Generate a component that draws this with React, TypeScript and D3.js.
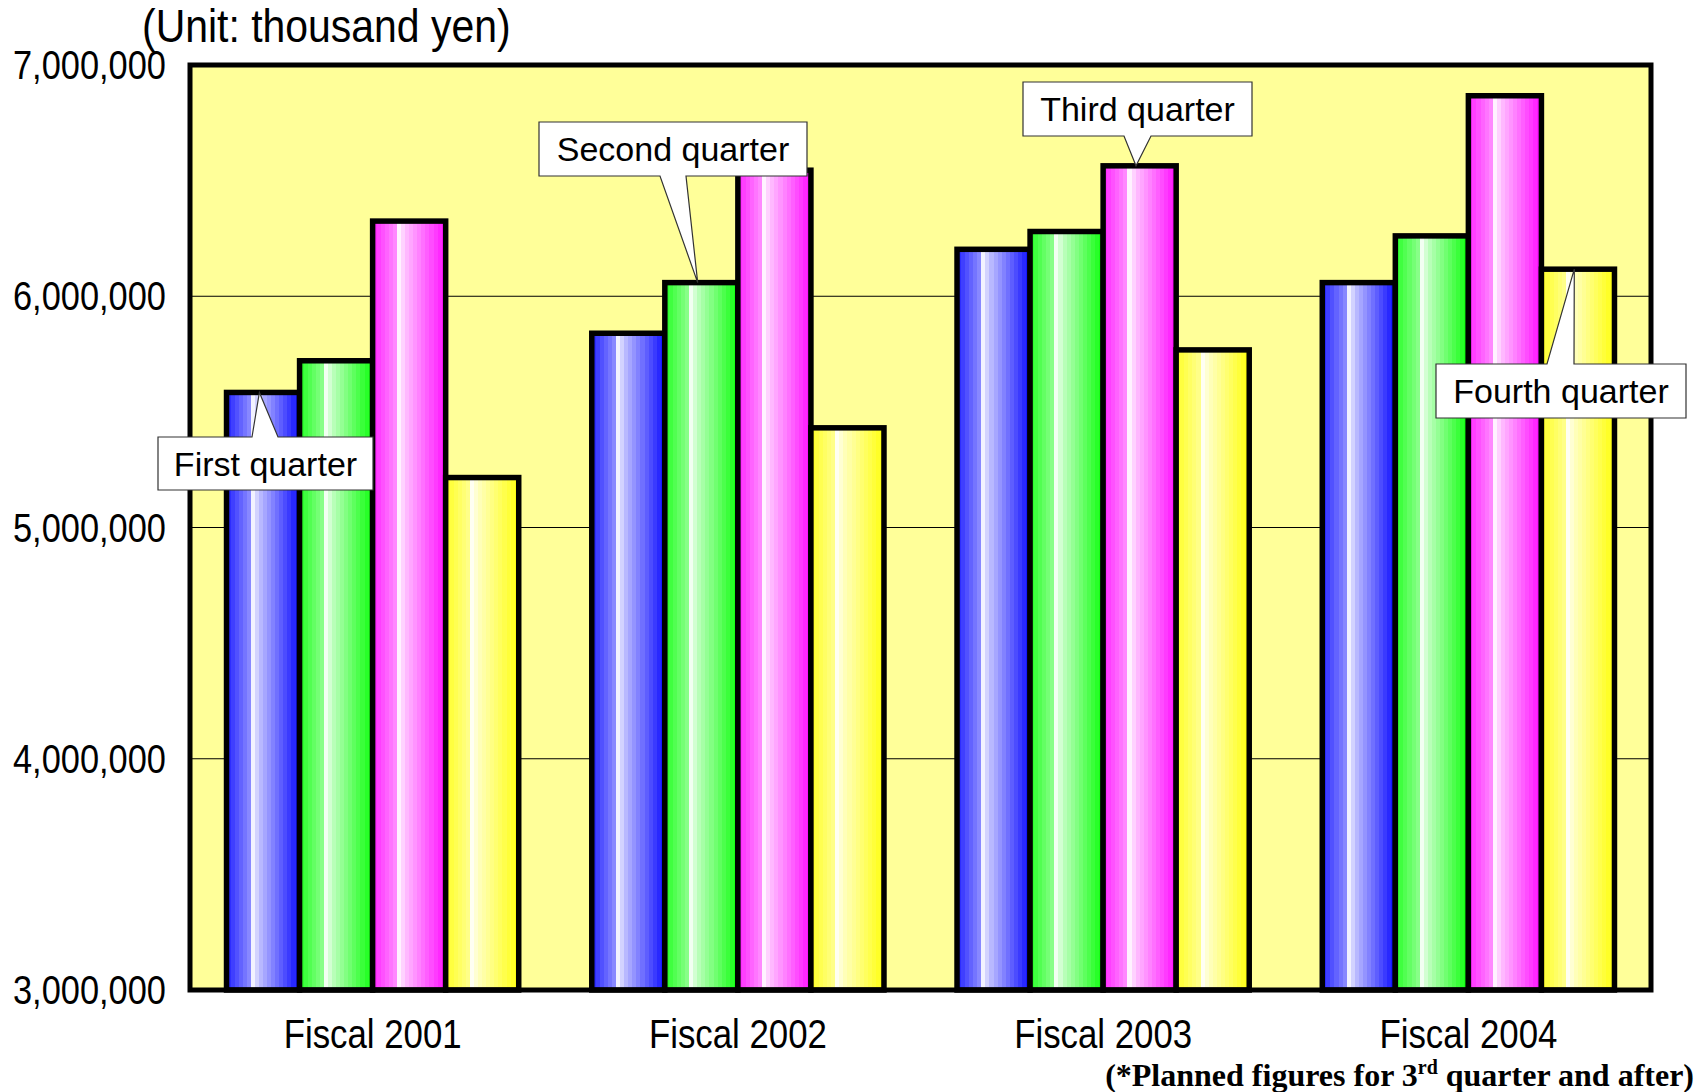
import React, { useEffect, useRef } from "react";
import * as d3 from "d3";

const categories = ["Fiscal 2001", "Fiscal 2002", "Fiscal 2003", "Fiscal 2004"];
const quarters = ["First quarter", "Second quarter", "Third quarter", "Fourth quarter"];
const q1 = [5584000, 5840000, 6203000, 6059000];
const q2 = [5721000, 6059000, 6280000, 6261000];
const q3 = [6325000, 6545000, 6564000, 6867000];
const q4 = [5216000, 5431000, 5768000, 6117000];
const yTicks = [3000000, 4000000, 5000000, 6000000, 7000000];
const barColors = ["#0000ff", "#00ff00", "#ff00ff", "#ffff00"];

// callout boxes (layout only), pointer tips come from the bar values
const callouts = [
  { q: 0, c: 0, box: [158, 437, 215, 53], base: [252, 278], side: "top" },
  { q: 1, c: 1, box: [539, 122, 268, 54], base: [660, 686], side: "bottom" },
  { q: 2, c: 2, box: [1023, 82, 229, 54], base: [1124, 1151], side: "bottom" },
  { q: 3, c: 3, box: [1436, 364, 250, 54], base: [1547, 1574], side: "top" },
];

const App: React.FC = () => {
  const svgRef = useRef<SVGSVGElement>(null);

  useEffect(() => {
    if (!svgRef.current) return;
    const svg = d3.select(svgRef.current);
    const width = 1697;
    const height = 1092;
    const plot = { left: 190, right: 1651, top: 65, bottom: 990 };
    const series = [q1, q2, q3, q4];

    svg.attr("width", width).attr("height", height);

    // banded horizontal gradients
    const defs = svg.append("defs");
    const light = d3
      .scaleLinear<number>()
      .domain([0, 0.32, 0.36, 0.45, 1])
      .range([0.14, 0.55, 0.95, 0.75, 0.05]);
    const bands = 18;
    barColors.forEach((col, i) => {
      const grad = defs
        .append("linearGradient")
        .attr("id", `grad${i}`)
        .attr("x1", "0")
        .attr("x2", "1")
        .attr("y1", "0")
        .attr("y2", "0");
      for (let b = 0; b < bands; b++) {
        const c = d3.interpolateRgb(col, "#ffffff")(light((b + 0.5) / bands));
        grad.append("stop").attr("offset", b / bands).attr("stop-color", c);
        grad.append("stop").attr("offset", (b + 1) / bands).attr("stop-color", c);
      }
    });

    const x = d3
      .scaleBand<string>()
      .domain(categories)
      .range([plot.left, plot.right])
      .paddingInner(0.2)
      .paddingOuter(0.1);
    const xq = d3
      .scaleBand<number>()
      .domain(d3.range(quarters.length))
      .range([0, x.bandwidth()])
      .padding(0);
    const y = d3
      .scaleLinear()
      .domain([3000000, 7000000])
      .range([plot.bottom, plot.top]);

    const fmt = d3.format(",");

    svg
      .append("rect")
      .attr("x", plot.left)
      .attr("y", plot.top)
      .attr("width", plot.right - plot.left)
      .attr("height", plot.bottom - plot.top)
      .attr("fill", "#ffff99");

    // gridlines
    svg
      .selectAll(".grid")
      .data(yTicks.slice(1, -1))
      .enter()
      .append("line")
      .attr("x1", plot.left)
      .attr("x2", plot.right)
      .attr("y1", (d) => y(d))
      .attr("y2", (d) => y(d))
      .attr("stroke", "#000")
      .attr("stroke-width", 1);

    // bars
    categories.forEach((cat, ci) => {
      series.forEach((vals, qi) => {
        svg
          .append("rect")
          .attr("x", x(cat)! + xq(qi)!)
          .attr("y", y(vals[ci]))
          .attr("width", xq.bandwidth())
          .attr("height", y(3000000) - y(vals[ci]))
          .attr("fill", `url(#grad${qi})`)
          .attr("stroke", "#000")
          .attr("stroke-width", 5.5);
      });
    });

    // frame
    svg
      .append("rect")
      .attr("x", plot.left)
      .attr("y", plot.top)
      .attr("width", plot.right - plot.left)
      .attr("height", plot.bottom - plot.top)
      .attr("fill", "none")
      .attr("stroke", "#000")
      .attr("stroke-width", 5);

    // y tick labels
    yTicks.forEach((t) => {
      svg
        .append("text")
        .attr("transform", `translate(166,${y(t) + 14}) scale(0.86,1)`)
        .attr("text-anchor", "end")
        .style("font-family", "'Liberation Sans', Arial, sans-serif")
        .style("font-size", "40px")
        .attr("fill", "#000")
        .text(fmt(t));
    });

    // category labels
    categories.forEach((cat) => {
      svg
        .append("text")
        .attr("transform", `translate(${x(cat)! + x.bandwidth() / 2},1048) scale(0.87,1)`)
        .attr("text-anchor", "middle")
        .style("font-family", "'Liberation Sans', Arial, sans-serif")
        .style("font-size", "40px")
        .attr("fill", "#000")
        .text(cat);
    });

    // unit title
    svg
      .append("text")
      .attr("transform", "translate(142,42) scale(0.89,1)")
      .style("font-family", "'Liberation Sans', Arial, sans-serif")
      .style("font-size", "46px")
      .attr("fill", "#000")
      .text("(Unit: thousand yen)");

    // callouts
    callouts.forEach((co) => {
      const [bx, by, bw, bh] = co.box;
      const tipX = x(categories[co.c])! + xq(co.q)! + xq.bandwidth() * 0.45;
      const tipY = y(series[co.q][co.c]);
      const p = d3.path();
      if (co.side === "top") {
        p.moveTo(bx, by);
        p.lineTo(co.base[0], by);
        p.lineTo(tipX, tipY);
        p.lineTo(co.base[1], by);
        p.lineTo(bx + bw, by);
        p.lineTo(bx + bw, by + bh);
        p.lineTo(bx, by + bh);
      } else {
        p.moveTo(bx, by);
        p.lineTo(bx + bw, by);
        p.lineTo(bx + bw, by + bh);
        p.lineTo(co.base[1], by + bh);
        p.lineTo(tipX, tipY);
        p.lineTo(co.base[0], by + bh);
        p.lineTo(bx, by + bh);
      }
      p.closePath();
      svg
        .append("path")
        .attr("d", p.toString())
        .attr("fill", "#fff")
        .attr("stroke", "#333")
        .attr("stroke-width", 1.2);
      svg
        .append("text")
        .attr("x", bx + bw / 2)
        .attr("y", by + bh / 2 + 12)
        .attr("text-anchor", "middle")
        .style("font-family", "'Liberation Sans', Arial, sans-serif")
        .style("font-size", "34px")
        .attr("fill", "#000")
        .text(quarters[co.q]);
    });

    // footnote
    const note = svg
      .append("text")
      .attr("x", 1694)
      .attr("y", 1086)
      .attr("text-anchor", "end")
      .style("font-family", "'Liberation Serif', 'Times New Roman', serif")
      .style("font-weight", "bold")
      .style("font-size", "32px")
      .attr("fill", "#000");
    note.append("tspan").text("(*Planned figures for 3");
    note.append("tspan").attr("dy", -12).style("font-size", "20px").text("rd");
    note.append("tspan").attr("dy", 12).text(" quarter and after)");

    return () => {
      svg.selectAll("*").remove();
    };
  }, []);

  return (
    <svg
      ref={svgRef}
      style={{ position: "absolute", left: 0, top: 0, background: "#fff" }}
    />
  );
};

export default App;
